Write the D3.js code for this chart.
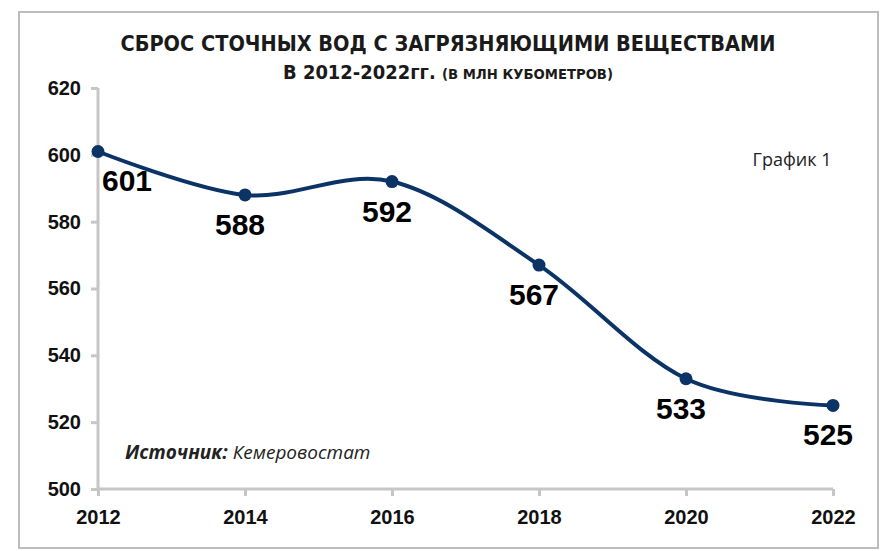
<!DOCTYPE html>
<html>
<head>
<meta charset="utf-8">
<script src="https://cdn.jsdelivr.net/npm/d3@7"></script>
<style>
  body { margin: 0; background: #fff; }
  svg { display: block; }
</style>
</head>
<body>
<div id="chart"></div>
<script>
var svgWidth = 896;
var svgHeight = 551;

// data
var years = [2012, 2014, 2016, 2018, 2020, 2022];
var values = [601, 588, 592, 567, 533, 525];
var yTicks = [500, 520, 540, 560, 580, 600, 620];

var margin = { top: 88, right: 63, bottom: 62, left: 98 };
var width = svgWidth - margin.left - margin.right;
var height = svgHeight - margin.top - margin.bottom;

var svg = d3.select("#chart")
  .append("svg")
  .attr("width", svgWidth)
  .attr("height", svgHeight);

// outer frame
svg.append("rect")
  .attr("x", 19).attr("y", 12)
  .attr("width", 859).attr("height", 536)
  .attr("fill", "#fff")
  .attr("stroke", "#bdbdbd")
  .attr("stroke-width", 2);

var chartGroup = svg.append("g")
  .attr("transform", `translate(${margin.left}, ${margin.top})`);

var x = d3.scaleLinear().domain([2012, 2022]).range([0, width]);
var y = d3.scaleLinear().domain([500, 620]).range([height, 0]);

// axes
var bottomAxis = d3.axisBottom(x).tickValues(years).tickFormat(d3.format("d")).tickSize(7).tickPadding(14);
var leftAxis = d3.axisLeft(y).tickValues(yTicks).tickSize(7).tickPadding(10);

var xg = chartGroup.append("g")
  .attr("transform", `translate(0, ${height})`)
  .call(bottomAxis);
var yg = chartGroup.append("g").call(leftAxis);

[xg, yg].forEach(function(g) {
  g.attr("font-size", null).attr("font-family", null);
  g.selectAll("path, line").attr("stroke", "#c6c6c6").attr("stroke-width", 3);
  g.selectAll("text")
    .style("font-family", "'Liberation Sans', Arial, sans-serif")
    .style("font-weight", "bold")
    .style("font-size", "20px")
    .attr("fill", "#111");
});
xg.select(".domain").attr("d", `M0,0H${width}`);
yg.select(".domain").attr("d", `M0,0V${height}`);

// line
var line = d3.line()
  .x(function(d, i) { return x(years[i]); })
  .y(function(d) { return y(d); })
  .curve(d3.curveCardinal.tension(0));

chartGroup.append("path")
  .datum(values)
  .attr("d", line)
  .attr("fill", "none")
  .attr("stroke", "#0b3366")
  .attr("stroke-width", 4);

chartGroup.selectAll("circle.pt")
  .data(values)
  .enter()
  .append("circle")
  .attr("class", "pt")
  .attr("cx", function(d, i) { return x(years[i]); })
  .attr("cy", function(d) { return y(d); })
  .attr("r", 6.5)
  .attr("fill", "#0b3366");

// value labels
chartGroup.selectAll("text.val")
  .data(values)
  .enter()
  .append("text")
  .attr("class", "val")
  .attr("x", function(d, i) { return x(years[i]) + (i === 0 ? 29 : -5); })
  .attr("y", function(d) { return y(d) + 40; })
  .attr("text-anchor", "middle")
  .attr("font-family", "Liberation Sans, Arial, sans-serif")
  .attr("font-weight", "bold")
  .attr("font-size", 30)
  .attr("fill", "#000")
  .text(function(d) { return d; });

// title
svg.append("text")
  .attr("x", 448).attr("y", 51)
  .attr("text-anchor", "middle")
  .attr("font-family", "DejaVu Sans Condensed, DejaVu Sans, sans-serif")
  .attr("font-stretch", "condensed")
  .attr("font-weight", "bold")
  .attr("font-size", 21)
  .attr("textLength", 655)
  .attr("lengthAdjust", "spacingAndGlyphs")
  .attr("fill", "#1a1a1a")
  .text("СБРОС СТОЧНЫХ ВОД С ЗАГРЯЗНЯЮЩИМИ ВЕЩЕСТВАМИ");

var sub = svg.append("text")
  .attr("x", 448).attr("y", 79)
  .attr("text-anchor", "middle")
  .attr("font-family", "DejaVu Sans Condensed, DejaVu Sans, sans-serif")
  .attr("font-stretch", "condensed")
  .attr("font-weight", "bold")
  .attr("fill", "#1a1a1a")
  .attr("textLength", 330)
  .attr("lengthAdjust", "spacingAndGlyphs");
sub.append("tspan").attr("font-size", 19).text("В 2012-2022гг. ");
sub.append("tspan").attr("font-size", 14).text("(В МЛН КУБОМЕТРОВ)");

// note
svg.append("text")
  .attr("x", 792).attr("y", 166)
  .attr("text-anchor", "middle")
  .attr("font-family", "Open Sans, sans-serif")
  .attr("font-size", 18)
  .attr("fill", "#222")
  .text("График 1");

// source
var src = svg.append("text")
  .attr("x", 125).attr("y", 459)
  .attr("font-family", "Open Sans, sans-serif")
  .attr("font-style", "italic")
  .attr("font-size", 19)
  .attr("fill", "#222");
src.append("tspan").attr("font-weight", "bold").text("Источник: ");
src.append("tspan").text("Кемеровостат");
</script>
</body>
</html>
